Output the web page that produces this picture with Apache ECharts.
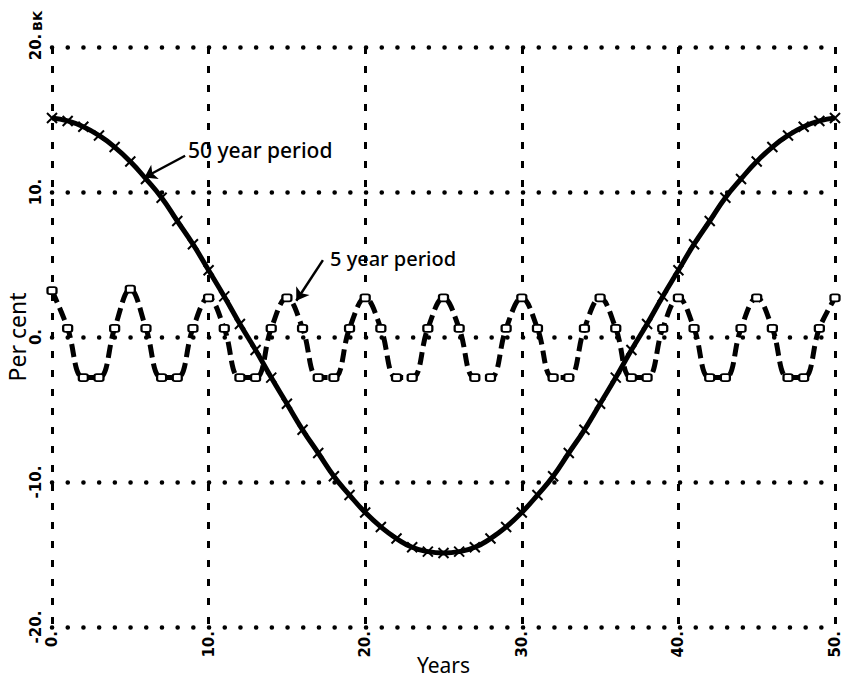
<!DOCTYPE html>
<html>
<head>
<meta charset="utf-8">
<script src="https://cdn.jsdelivr.net/npm/echarts@6/dist/echarts.min.js"></script>
<style>
  html, body { margin: 0; padding: 0; background: #fff; }
  #chart { width: 850px; height: 685px; }
</style>
</head>
<body>
<div id="chart"></div>
<script>
// years 0..50
var years = [0, 1, 2, 3, 4, 5, 6, 7, 8, 9, 10, 11, 12, 13, 14, 15, 16, 17, 18, 19, 20,
  21, 22, 23, 24, 25, 26, 27, 28, 29, 30, 31, 32, 33, 34, 35, 36, 37, 38, 39, 40,
  41, 42, 43, 44, 45, 46, 47, 48, 49, 50];

// 50 year period (per cent)
var fiftyYear = [15.1, 14.9, 14.5, 13.9, 13.1, 12.1, 10.9, 9.6, 8.0, 6.4, 4.6,
  2.8, 0.9, -0.9, -2.8, -4.6, -6.4, -8.0, -9.6, -10.9, -12.1,
  -13.1, -13.9, -14.5, -14.8, -14.9, -14.8, -14.5, -13.9, -13.1, -12.1,
  -10.9, -9.6, -8.0, -6.4, -4.6, -2.8, -0.9, 0.9, 2.8, 4.6,
  6.4, 8.0, 9.6, 10.9, 12.1, 13.1, 13.9, 14.5, 14.9, 15.1];

// 5 year period (per cent)
var fiveYear = [3.2, 0.6, -2.8, -2.8, 0.6, 3.3, 0.6, -2.8, -2.8, 0.6, 2.7,
  0.6, -2.8, -2.8, 0.6, 2.7, 0.6, -2.8, -2.8, 0.6, 2.7,
  0.6, -2.8, -2.8, 0.6, 2.7, 0.6, -2.8, -2.8, 0.6, 2.7,
  0.6, -2.8, -2.8, 0.6, 2.7, 0.6, -2.8, -2.8, 0.6, 2.7,
  0.6, -2.8, -2.8, 0.6, 2.7, 0.6, -2.8, -2.8, 0.6, 2.7];

function pairs(ys) {
  return years.map(function (x, i) { return [x, ys[i]]; });
}

var chart = echarts.init(document.getElementById('chart'), null, { renderer: 'svg' });

var crossMark = 'path://M0,0L10,10M10,0L0,10';
var labelFont = { color: '#000', fontFamily: 'DejaVu Sans', fontWeight: 'bold', fontSize: 15 };

chart.setOption({
  animation: false,
  backgroundColor: '#fff',
  grid: { left: 52, right: 15, top: 47, bottom: 58, outerBoundsMode: 'none' },
  xAxis: {
    type: 'value',
    min: 0,
    max: 50,
    interval: 10,
    name: 'Years',
    nameLocation: 'center',
    nameGap: 27,
    nameMoveOverlap: false,
    nameTextStyle: { color: '#000', fontFamily: 'Noto Sans', fontSize: 21 },
    axisLine: { show: false },
    axisTick: { show: false },
    axisLabel: Object.assign({
      rotate: 90,
      margin: 4,
      formatter: function (v) { return v + '.'; }
    }, labelFont),
    splitLine: {
      show: true,
      lineStyle: { color: '#000', width: 3, type: [7, 12] }
    }
  },
  yAxis: {
    type: 'value',
    min: -20,
    max: 20,
    interval: 10,
    name: 'Per cent',
    nameLocation: 'center',
    nameGap: 24,
    nameMoveOverlap: false,
    nameTextStyle: { color: '#000', fontFamily: 'Noto Sans', fontSize: 23 },
    axisLine: { show: false },
    axisTick: { show: false },
    axisLabel: Object.assign({
      rotate: 90,
      margin: 9,
      formatter: function (v) { return v + '.'; }
    }, labelFont),
    splitLine: {
      show: true,
      lineStyle: { color: '#000', width: 4.5, type: [0.1, 15.6], cap: 'round' }
    }
  },
  graphic: [
    {
      type: 'text', left: 188, top: 139,
      style: { text: '50 year period', fill: '#000', font: '500 21px "Noto Sans"' }
    },
    {
      type: 'text', left: 330, top: 248,
      style: { text: '5 year period', fill: '#000', font: '500 20px "Noto Sans"' }
    },
    {
      type: 'text', x: 37, y: 21, rotation: Math.PI / 2,
      style: { text: 'BK', fill: '#000', font: 'bold 13px "DejaVu Sans"', align: 'center', verticalAlign: 'middle' }
    }
  ],
  series: [
    {
      name: '5 year period',
      type: 'line',
      data: pairs(fiveYear),
      smooth: 0.4,
      symbol: 'roundRect',
      symbolSize: [9, 7],
      showAllSymbol: true,
      lineStyle: { color: '#000', width: 5, type: [13, 6] },
      itemStyle: { color: '#fff', borderColor: '#000', borderWidth: 2 },
      z: 3
    },
    {
      name: '50 year period',
      type: 'line',
      data: pairs(fiftyYear),
      smooth: true,
      symbol: crossMark,
      symbolSize: 10,
      showAllSymbol: true,
      lineStyle: { color: '#000', width: 5 },
      itemStyle: { color: 'none', borderColor: '#000', borderWidth: 2 },
      markLine: {
        silent: true,
        symbol: ['none', 'arrow'],
        symbolSize: 12,
        label: { show: false },
        lineStyle: { color: '#000', width: 2.5, type: 'solid' },
        data: [
          [{ coord: [8.5, 12.5] }, { coord: [5.9, 11.0] }],
          [{ coord: [17.3, 5.3] }, { coord: [15.6, 2.5] }]
        ]
      },
      z: 4
    }
  ]
});
</script>
</body>
</html>
